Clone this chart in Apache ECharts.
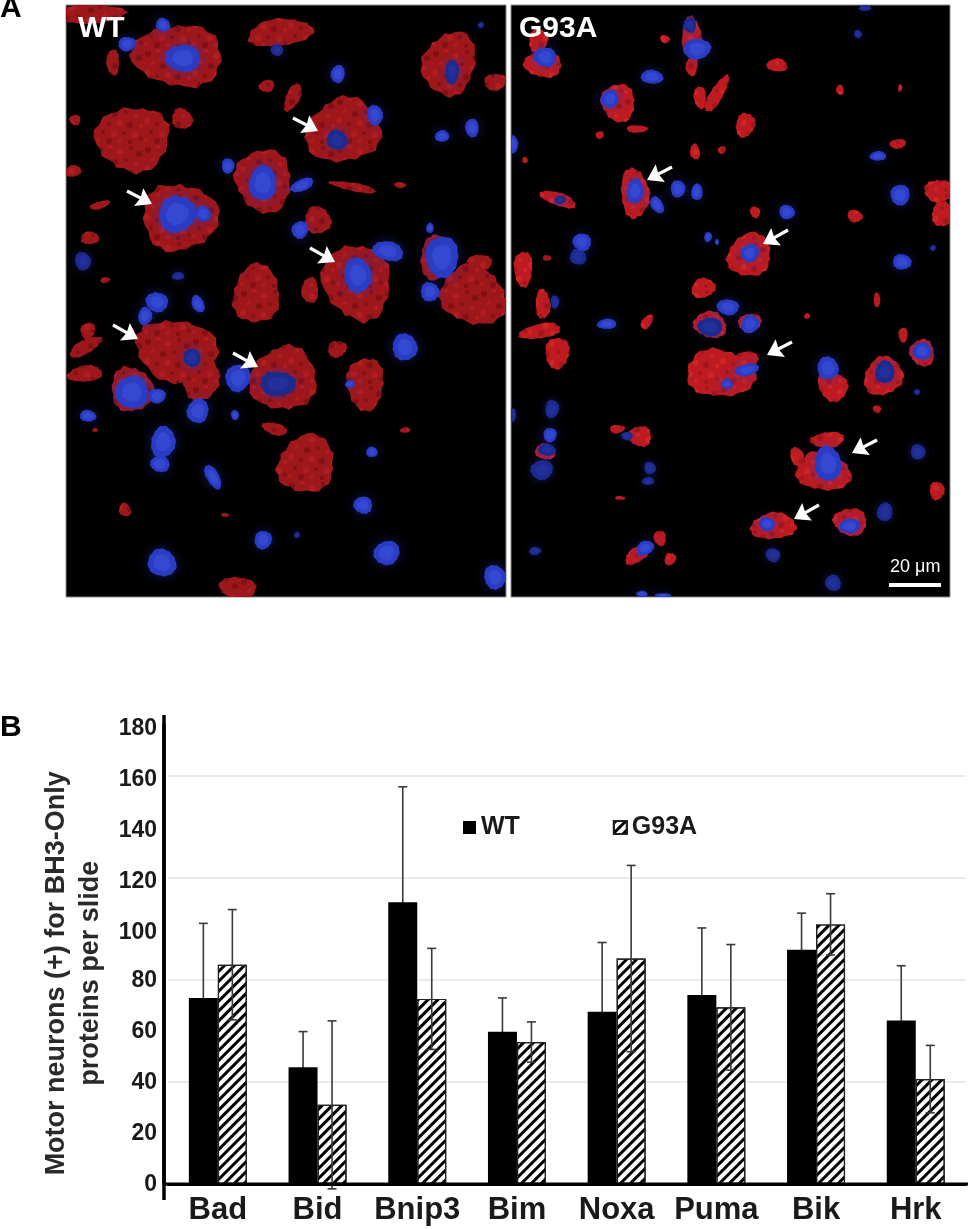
<!DOCTYPE html>
<html>
<head>
<meta charset="utf-8">
<title>BH3-only proteins in motor neurons</title>
<script src="https://cdn.jsdelivr.net/npm/echarts@6/dist/echarts.min.js"></script>
<style>
html, body { margin: 0; background: #fff; }
#chart-container { width: 970px; height: 1229px; }
</style>
</head>
<body>
<div id="chart-container"></div>
<script>
// panel B values
const categories = ["Bad", "Bid", "Bnip3", "Bim", "Noxa", "Puma", "Bik", "Hrk"];
const wtValues = [72.9, 45.7, 110.4, 59.6, 67.5, 74, 91.8, 64];
const g93aValues = [85.9, 31, 72.5, 55.6, 88.3, 69.2, 101.7, 41.1];
const wtErrors = [29.2, 14, 45.2, 13.3, 27.1, 26.3, 14.3, 21.5];
const g93aErrors = [21.6, 32.9, 19.8, 7.9, 36.5, 24.6, 12, 13.2];

// panel A micrograph, [x, y, rx, ry, rotation] in picture pixels
const wtRed = [
    [178, 55, 43, 33, 0], [90, 14, 36, 9, 0], [280, 33, 32, 14, -10], [450, 64, 27, 32, 0],
    [133, 138, 37, 33, -30], [343, 130, 36, 34, 0], [263, 181, 30, 30, 0], [180, 218, 36, 36, 0],
    [257, 294, 25, 28, 0], [357, 281, 33, 40, 0], [437, 257, 18, 22, 0], [473, 296, 33, 30, 0],
    [177, 351, 40, 32, 20], [200, 375, 20, 25, 0], [283, 378, 32, 34, 0], [365, 384, 20, 25, 0],
    [132, 390, 20, 24, 0], [307, 464, 30, 28, 0], [238, 588, 18, 12, 0], [85, 347, 18, 7, -25],
    [85, 374, 18, 8, -10], [88, 331, 7, 9, 0], [318, 220, 14, 13, 0], [310, 290, 8, 14, 0],
    [495, 82, 12, 8, 0], [182, 119, 10, 11, 0], [267, 86, 8, 6, 0], [293, 97, 7, 15, 30],
    [73, 171, 8, 6, 0], [353, 187, 25, 4, 10], [100, 205, 10, 4, -15], [90, 238, 10, 6, 0],
    [113, 62, 6, 14, 0], [337, 349, 10, 8, 0], [125, 510, 6, 7, 0], [275, 429, 13, 6, 20],
    [400, 185, 6, 3, 0], [405, 430, 5, 3, 0], [75, 120, 6, 5, 0], [265, 160, 5, 3, 0],
    [95, 430, 3, 2, 0], [480, 262, 12, 8, 0], [105, 280, 5, 3, 0], [225, 515, 4, 2, 0],
];
const wtBlue = [
    [183, 58, 17, 14, 0], [127, 44, 9, 7, 0], [163, 25, 7, 7, 0], [338, 74, 7, 9, 0],
    [375, 115, 8, 10, 0], [442, 136, 7, 6, 0], [472, 128, 7, 9, 0], [228, 166, 6, 8, 0],
    [263, 183, 14, 17, 0], [302, 185, 12, 6, -25], [177, 214, 19, 18, 0], [203, 214, 8, 8, 0],
    [300, 230, 8, 9, 0], [358, 275, 14, 17, 0], [388, 251, 15, 10, 15], [442, 257, 17, 20, 0],
    [430, 292, 9, 10, 0], [430, 228, 4, 5, 0], [157, 302, 11, 10, 0], [145, 316, 7, 9, 0],
    [198, 304, 6, 9, -20], [238, 378, 12, 14, 0], [405, 347, 13, 13, 0], [132, 392, 16, 17, 0],
    [157, 396, 9, 7, 0], [88, 416, 8, 6, 0], [198, 411, 11, 12, 0], [235, 415, 4, 5, 0],
    [163, 442, 12, 16, 0], [160, 464, 10, 8, 0], [213, 477, 6, 14, -30], [372, 452, 6, 5, 0],
    [363, 505, 9, 9, 0], [263, 540, 9, 9, 0], [162, 563, 14, 14, 0], [387, 553, 13, 12, 0],
    [495, 577, 11, 12, 0], [350, 384, 5, 4, 0],
];
const wtDimBlue = [
    [277, 50, 6, 6, 0], [452, 72, 7, 12, 0], [337, 140, 10, 10, 0], [481, 25, 3, 3, 0],
    [83, 261, 8, 9, 0], [178, 276, 6, 4, 0], [192, 358, 9, 9, 0], [278, 384, 17, 13, 0],
    [297, 535, 3, 3, 0],
];
const g93aRed = [
    [543, 64, 18, 14, 0], [538, 41, 10, 12, 0], [692, 39, 10, 22, 0], [692, 66, 6, 10, 0],
    [665, 39, 5, 4, 0], [777, 65, 10, 7, 10], [618, 103, 18, 18, 0], [637, 129, 10, 4, 0],
    [717, 94, 7, 20, 30], [700, 97, 6, 12, 0], [745, 125, 10, 12, 0], [695, 152, 5, 8, 0],
    [722, 150, 4, 4, 0], [635, 193, 15, 24, 0], [558, 199, 18, 7, 20], [523, 269, 10, 17, 0],
    [547, 258, 4, 3, 0], [750, 255, 23, 21, 0], [755, 212, 5, 6, 0], [703, 288, 12, 10, 0],
    [710, 325, 17, 13, 0], [750, 323, 11, 10, 0], [543, 304, 8, 14, 0], [540, 331, 20, 8, -10],
    [557, 353, 13, 15, 0], [720, 374, 33, 25, 0], [745, 360, 15, 8, 0], [833, 386, 15, 15, 0],
    [883, 376, 19, 20, 0], [922, 353, 13, 13, 0], [940, 191, 15, 12, 0], [943, 214, 12, 12, 0],
    [640, 436, 11, 11, 0], [617, 429, 8, 4, 0], [823, 472, 27, 20, 0], [828, 440, 17, 8, 0],
    [797, 456, 7, 9, 0], [773, 526, 22, 14, 0], [850, 522, 18, 13, 0], [937, 491, 7, 10, 0],
    [637, 555, 14, 7, -30], [660, 538, 6, 8, 0], [670, 559, 6, 6, 0], [545, 452, 10, 8, 0],
    [898, 144, 8, 5, 0], [855, 216, 8, 6, 0], [807, 316, 3, 3, 0], [903, 335, 5, 7, 0],
    [877, 300, 3, 8, 0], [647, 322, 5, 8, 30], [877, 409, 4, 4, 0], [900, 88, 2, 4, 0],
    [840, 90, 4, 5, 0], [600, 135, 4, 4, 0], [525, 160, 3, 3, 0], [815, 472, 4, 3, 0],
    [940, 490, 4, 4, 0], [620, 498, 5, 2, 0],
];
const g93aBlue = [
    [545, 57, 11, 10, 0], [697, 49, 14, 10, 0], [652, 77, 11, 7, 0], [610, 99, 9, 9, 0],
    [513, 144, 5, 9, 0], [635, 191, 8, 13, 0], [657, 205, 6, 9, -30], [678, 189, 7, 9, 0],
    [697, 192, 6, 8, 0], [582, 242, 9, 9, 0], [708, 237, 4, 5, 0], [717, 242, 2, 3, 0],
    [750, 253, 9, 9, 0], [787, 212, 8, 7, 0], [878, 156, 8, 5, 0], [900, 195, 10, 10, 0],
    [902, 262, 9, 8, 0], [607, 324, 10, 5, 0], [728, 307, 11, 8, 0], [750, 324, 9, 9, 0],
    [727, 384, 6, 5, 0], [747, 370, 12, 6, -10], [828, 368, 11, 11, 0], [922, 351, 9, 9, 0],
    [550, 435, 7, 7, 0], [828, 464, 13, 18, 0], [850, 526, 11, 7, 0], [767, 524, 8, 7, 0],
    [645, 548, 9, 7, -20], [642, 594, 6, 3, 0], [663, 596, 8, 3, 0],
];
const g93aDimBlue = [
    [690, 25, 6, 8, 0], [560, 200, 6, 4, 0], [578, 257, 8, 8, 0], [933, 248, 3, 3, 0],
    [858, 34, 4, 4, 0], [865, 8, 6, 3, 0], [710, 327, 13, 9, 0], [555, 302, 4, 7, 0],
    [885, 372, 10, 11, 0], [917, 392, 3, 3, 0], [552, 409, 7, 9, 0], [547, 450, 9, 6, 0],
    [542, 470, 11, 10, 0], [650, 468, 6, 6, 0], [648, 481, 6, 4, 0], [627, 436, 6, 4, 0],
    [918, 452, 7, 8, 0], [885, 512, 8, 9, 0], [773, 555, 7, 7, 0], [535, 551, 6, 4, 0],
    [833, 583, 8, 8, 0], [513, 415, 3, 7, 0],
];
// arrows, [tail x, tail y, tip x, tip y]
const wtArrows = [
    [293, 118, 318, 131], [127, 191, 152, 204], [310, 248, 335, 262], [113, 325, 138, 339], [233, 353, 258, 367],
];
const g93aArrows = [
    [672, 167, 647, 180], [788, 230, 763, 244], [792, 342, 767, 355], [877, 440, 852, 453], [819, 505, 794, 519],
];
// fixed outline of a rough cell, one radius factor for each corner
const cellOutline = [
    1, 1.04, 0.98, 1.08, 1.12, 1.03, 1.1, 0.97, 0.9, 0.95, 0.86, 0.9, 0.98, 0.94, 1.02, 1.1,
    1.14, 1.05, 1.1, 1, 0.93, 0.97, 0.88, 0.83, 0.9, 0.87, 0.96, 1.03, 0.97, 1.06, 1.01, 0.95,
];
// speckle spots of the red stain, [x, y, radius, shade]
const stainSpots = [
    [4, 6, 3, 0], [14, 3, 2, 1], [24, 8, 3, 1], [35, 4, 2, 0], [43, 10, 3, 0], [9, 15, 2, 1],
    [19, 18, 3, 0], [30, 16, 2, 0], [40, 20, 2, 1], [3, 25, 3, 1], [13, 28, 2, 0], [24, 27, 3, 1],
    [34, 29, 3, 0], [45, 30, 2, 1], [7, 36, 2, 0], [18, 38, 3, 1], [28, 37, 2, 0], [39, 39, 3, 1],
    [2, 44, 2, 1], [13, 45, 3, 0], [24, 45, 2, 1], [34, 46, 2, 0], [45, 43, 2, 0],
];

const BAR_WIDTH = 29;

function stainPattern(base, dark, light) {
    let canvas = document.createElement("canvas");
    canvas.width = 48;
    canvas.height = 48;
    let ctx = canvas.getContext("2d");
    ctx.fillStyle = base;
    ctx.fillRect(0, 0, 48, 48);
    ctx.globalAlpha = 0.75;
    stainSpots.forEach(function (s) {
        ctx.fillStyle = s[3] ? light : dark;
        ctx.beginPath();
        ctx.arc(s[0], s[1], s[2], 0, Math.PI * 2);
        ctx.fill();
    });
    return { image: canvas, repeat: "repeat" };
}

const wtStain = stainPattern("#9e171b", "#761014", "#b92025");
const g93aStain = stainPattern("#be1b20", "#96151a", "#d42a2c");

function blobPoints(api, params, scale, rough) {
    let c = api.coord([api.value(0), api.value(1)]);
    let rx = api.value(2) * scale;
    let ry = api.value(3) * scale;
    let rot = api.value(4) * Math.PI / 180;
    let n = cellOutline.length;
    let pts = [];
    for (let i = 0; i < n; i++) {
        let a = (i / n) * Math.PI * 2;
        let f = 1 + (cellOutline[(i + params.dataIndex * 7) % n] - 1) * rough;
        let x = Math.cos(a) * rx * f;
        let y = Math.sin(a) * ry * f;
        pts.push([c[0] + x * Math.cos(rot) - y * Math.sin(rot), c[1] + x * Math.sin(rot) + y * Math.cos(rot)]);
    }
    return pts;
}

function redItem(stain) {
    return function (params, api) {
        return { type: "polygon", shape: { points: blobPoints(api, params, 1, 1) }, style: { fill: stain } };
    };
}

function blueItem(fill, inner, glow) {
    return function (params, api) {
        return {
            type: "group",
            children: [
                { type: "polygon", shape: { points: blobPoints(api, params, 1, 0.6), smooth: 0.5 },
                  style: { fill: fill, shadowBlur: glow, shadowColor: "rgba(40,60,200,0.45)" } },
                { type: "polygon", shape: { points: blobPoints(api, params, 0.6, 0.6), smooth: 0.5 }, style: { fill: inner } },
            ],
        };
    };
}

function cellSeries(data, renderItem, panel) {
    return {
        type: "custom",
        xAxisIndex: panel,
        yAxisIndex: panel + 1,
        clip: true,
        silent: true,
        encode: { x: 0, y: 1 },
        data: data,
        renderItem: renderItem,
    };
}

function arrowItem(params, api) {
    let a = api.coord([api.value(0), api.value(1)]);
    let b = api.coord([api.value(2), api.value(3)]);
    let dx = b[0] - a[0];
    let dy = b[1] - a[1];
    let len = Math.sqrt(dx * dx + dy * dy);
    let ux = dx / len, uy = dy / len;
    let hx = b[0] - ux * 15, hy = b[1] - uy * 15;
    return {
        type: "group",
        children: [
            { type: "line", shape: { x1: a[0], y1: a[1], x2: hx + ux * 4, y2: hy + uy * 4 }, style: { stroke: "#fff", lineWidth: 3.2 } },
            { type: "polygon", shape: { points: [[b[0], b[1]], [hx - uy * 10, hy + ux * 10], [hx + ux * 2, hy + uy * 2], [hx + uy * 10, hy - ux * 10]] },
              style: { fill: "#fff" } },
        ],
    };
}

function errorSeries(name, values, errors, side, z) {
    return {
        name: name + " error",
        type: "custom",
        xAxisIndex: 0,
        yAxisIndex: 0,
        z: z,
        silent: true,
        encode: { x: 0, y: 1 },
        data: values.map((v, i) => [i, v - errors[i], v + errors[i]]),
        renderItem: function (params, api) {
            let lo = api.coord([api.value(0), api.value(1)]);
            let hi = api.coord([api.value(0), api.value(2)]);
            let x = lo[0] + side * BAR_WIDTH / 2;
            let st = { stroke: "#3a3a3a", lineWidth: 1.6 };
            return {
                type: "group",
                children: [
                    { type: "line", shape: { x1: x, y1: lo[1], x2: x, y2: hi[1] }, style: st },
                    { type: "line", shape: { x1: x - 4.5, y1: hi[1], x2: x + 4.5, y2: hi[1] }, style: st },
                    { type: "line", shape: { x1: x - 4.5, y1: lo[1], x2: x + 4.5, y2: lo[1] }, style: st },
                ],
            };
        },
    };
}

function pictureAxes(min, max, gridIndex, inverse) {
    return { type: "value", gridIndex: gridIndex, min: min, max: max, inverse: inverse, show: false };
}

let myChart = echarts.init(document.getElementById("chart-container"), null, { renderer: "canvas" });

const labelFont = '"Liberation Sans", Arial, sans-serif';
const hatch = {
    symbol: "rect",
    symbolSize: 1,
    color: "#000",
    dashArrayX: [1, 0],
    dashArrayY: [3, 4],
    rotation: -Math.PI / 4,
};
const tickStyle = { fontSize: 23, fontWeight: "bold", color: "#1a1a1a", fontFamily: labelFont };

let option = {
    animation: false,
    backgroundColor: "#fff",
    textStyle: { fontFamily: labelFont },
    legend: {
        data: ["WT", "G93A"],
        left: 463,
        top: 815,
        padding: 0,
        icon: "rect",
        itemWidth: 13,
        itemHeight: 13,
        itemGap: 93,
        selectedMode: false,
        textStyle: { fontSize: 25, fontWeight: "bold", color: "#1a1a1a", fontFamily: labelFont },
    },
    grid: [
        { left: 168, top: 724.5, width: 797.6, height: 459.5 },
        { left: 66, top: 5, width: 440, height: 592, show: true, backgroundColor: "#000", borderColor: "#8a8a8a", borderWidth: 1 },
        { left: 511, top: 5, width: 439, height: 592, show: true, backgroundColor: "#000", borderColor: "#8a8a8a", borderWidth: 1 },
    ],
    xAxis: [
        {
            type: "category",
            gridIndex: 0,
            data: categories,
            axisTick: { show: false },
            axisLine: { lineStyle: { color: "#000", width: 3 } },
            axisLabel: { interval: 0, fontSize: 31, fontWeight: "bold", color: "#1a1a1a", margin: 11, fontFamily: labelFont },
        },
        pictureAxes(66, 506, 1, false),
        pictureAxes(511, 950, 2, false),
    ],
    yAxis: [
        {
            type: "value",
            gridIndex: 0,
            min: 0,
            max: 180,
            interval: 20,
            offset: 4,
            name: "Motor neurons (+) for BH3-Only\nproteins per slide",
            nameLocation: "middle",
            nameRotate: 90,
            nameGap: 46,
            nameTextStyle: { fontSize: 27, fontWeight: "bold", color: "#2a2a2a", lineHeight: 34, padding: [0, 38, 0, 0], fontFamily: labelFont },
            axisLine: { show: true, lineStyle: { color: "#000", width: 3.5 } },
            axisTick: { show: false },
            splitLine: { show: false },
            axisLabel: {
                // the upper labels sit a little under their ticks in the original
                formatter: (v) => (v >= 100 ? "{up|" + v + "}" : "{low|" + v + "}"),
                margin: 7,
                rich: {
                    up: Object.assign({ padding: [8, 0, 0, 0] }, tickStyle),
                    low: Object.assign({ padding: [1, 0, 0, 0] }, tickStyle),
                },
            },
        },
        {
            // only every second tick has a gridline
            type: "value",
            gridIndex: 0,
            min: 0,
            max: 180,
            interval: 40,
            axisLine: { show: false },
            axisTick: { show: false },
            axisLabel: { show: false },
            splitLine: { show: true, showMinLine: false, showMaxLine: false, lineStyle: { color: "#e4e4e4", width: 1.5 } },
        },
        pictureAxes(5, 597, 1, true),
        pictureAxes(5, 597, 2, true),
    ],
    series: [
        {
            name: "WT",
            type: "bar",
            xAxisIndex: 0,
            yAxisIndex: 0,
            z: 3,
            data: wtValues,
            barWidth: BAR_WIDTH,
            barGap: 0,
            itemStyle: { color: "#000" },
        },
        {
            name: "G93A",
            type: "bar",
            xAxisIndex: 0,
            yAxisIndex: 0,
            z: 3,
            data: g93aValues,
            barWidth: BAR_WIDTH,
            barGap: 0,
            itemStyle: { color: "#fff", borderColor: "#222", borderWidth: 1.2, decal: hatch },
        },
        errorSeries("WT", wtValues, wtErrors, -1, 2),
        errorSeries("G93A", g93aValues, g93aErrors, 1, 5),
        cellSeries(wtRed, redItem(wtStain), 1),
        cellSeries(wtDimBlue, blueItem("#1c2a8c", "#21309a", 8), 1),
        cellSeries(wtBlue, blueItem("#2a3cc4", "#3448d2", 12), 1),
        cellSeries(wtArrows, arrowItem, 1),
        cellSeries(g93aRed, redItem(g93aStain), 2),
        cellSeries(g93aDimBlue, blueItem("#1c2a8c", "#21309a", 8), 2),
        cellSeries(g93aBlue, blueItem("#2a3cc4", "#3448d2", 12), 2),
        cellSeries(g93aArrows, arrowItem, 2),
    ],
    graphic: [
        { type: "text", left: 0, top: -6, z: 50, style: { text: "A", font: 'bold 30px ' + labelFont, fill: "#000" } },
        { type: "text", left: 0, top: 713, z: 50, style: { text: "B", font: 'bold 30px ' + labelFont, fill: "#000" } },
        { type: "text", left: 78, top: 14, z: 50, style: { text: "WT", font: 'bold 30px ' + labelFont, fill: "#fff" } },
        { type: "text", left: 519, top: 14, z: 50, style: { text: "G93A", font: 'bold 30px ' + labelFont, fill: "#fff" } },
        { type: "text", left: 890, top: 558, z: 50, style: { text: "20 μm", font: '18px ' + labelFont, fill: "#fff" } },
        { type: "rect", z: 50, shape: { x: 889, y: 583, width: 52, height: 4 }, style: { fill: "#fff" } },
        // the drawn axis lines overrun the plot a little at both ends
        { type: "line", z: 50, shape: { x1: 164, y1: 715, x2: 164, y2: 1200 }, style: { stroke: "#000", lineWidth: 3.5 } },
        { type: "line", z: 50, shape: { x1: 164, y1: 1184, x2: 968, y2: 1184 }, style: { stroke: "#000", lineWidth: 3 } },
    ],
};

if (option && typeof option === "object") {
    myChart.setOption(option);
}

window.addEventListener("resize", myChart.resize);
</script>
</body>
</html>
